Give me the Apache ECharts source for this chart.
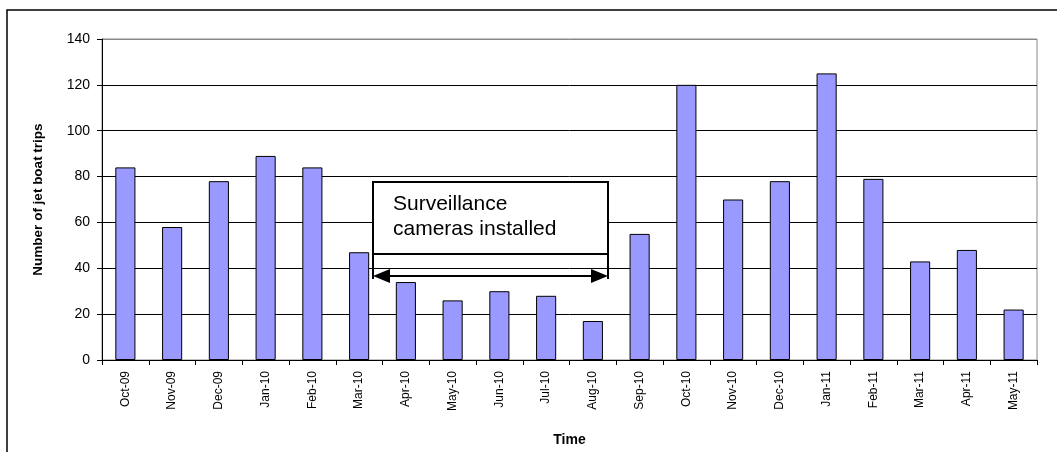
<!DOCTYPE html>
<html lang="en">
<head>
    <meta charset="UTF-8">
    <title>Jet boat trips</title>
    <style>
        html,body{
            padding: 0;margin: 0;background: #fff;
        }
        #chart{
            width: 1057px;height: 452px;
        }
    </style>
    <script src="https://cdn.jsdelivr.net/npm/echarts@6/dist/echarts.min.js"></script>
</head>
<body>
<div id="chart"></div>
</body>
</html>
<script>
    var months = ['Oct-09','Nov-09','Dec-09','Jan-10','Feb-10','Mar-10','Apr-10','May-10','Jun-10','Jul-10',
        'Aug-10','Sep-10','Oct-10','Nov-10','Dec-10','Jan-11','Feb-11','Mar-11','Apr-11','May-11'];
    var trips = [84, 58, 78, 89, 84, 47, 34, 26, 30, 28, 17, 55, 120, 70, 78, 125, 79, 43, 48, 22];
    var yTicks = [0, 20, 40, 60, 80, 100, 120, 140];

    var myChart = echarts.init(document.getElementById('chart'));
    var font = 'Arial, "Liberation Sans", sans-serif';

    // top grid line is grey like the plot border, the others black
    var gridColors = yTicks.map(function(v, i){ return i == yTicks.length - 1 ? '#888' : '#000'; });

    var option = {
        animation: false,
        grid: {left: 102, right: 20, top: 39, bottom: 88, show: true, borderColor: '#888', borderWidth: 1},
        xAxis: {
            type: 'category',
            data: months,
            name: 'Time',
            nameLocation: 'middle',
            nameGap: 73,
            nameTextStyle: {fontFamily: font, fontSize: 14, fontWeight: 'bold', color: '#000'},
            axisLine: {lineStyle: {color: '#000', width: 1}},
            axisTick: {show: true, length: 5, lineStyle: {color: '#000'}},
            axisLabel: {rotate: 90, fontFamily: font, fontSize: 12, color: '#000', margin: 11, interval: 0}
        },
        yAxis: {
            type: 'value',
            min: yTicks[0],
            max: yTicks[yTicks.length - 1],
            interval: 20,
            name: 'Number of jet boat trips',
            nameLocation: 'middle',
            nameGap: 57,
            nameTextStyle: {fontFamily: font, fontSize: 13.5, fontWeight: 'bold', color: '#000'},
            axisLine: {show: true, lineStyle: {color: '#000', width: 1}},
            axisTick: {show: true, length: 5, lineStyle: {color: '#000'}},
            axisLabel: {fontFamily: font, fontSize: 14, color: '#000', margin: 12},
            splitLine: {lineStyle: {color: gridColors, width: 1}}
        },
        series: [{
            type: 'bar',
            data: trips,
            barWidth: '43%',
            itemStyle: {color: '#9999ff', borderColor: '#000', borderWidth: 1}
        }]
    };
    myChart.setOption(option);

    // outer frame, annotation box and arrow
    var g = [
        {type: 'rect', shape: {x: 7, y: 10, width: 1100, height: 500},
            style: {fill: 'none', stroke: '#000', lineWidth: 1.5}, silent: true, z: 0},
        {type: 'rect', shape: {x: 373, y: 182, width: 235, height: 72},
            style: {fill: '#fff', stroke: '#000', lineWidth: 2}, z: 10},
        {type: 'text', x: 393, y: 192, style: {text: 'Surveillance\ncameras installed',
            font: '21px ' + font, fill: '#000', lineHeight: 25}, z: 11},
        {type: 'line', shape: {x1: 373, y1: 254, x2: 373, y2: 279}, style: {stroke: '#000', lineWidth: 2}, z: 10},
        {type: 'line', shape: {x1: 608, y1: 254, x2: 608, y2: 279}, style: {stroke: '#000', lineWidth: 2}, z: 10},
        {type: 'line', shape: {x1: 385, y1: 276, x2: 596, y2: 276}, style: {stroke: '#000', lineWidth: 2}, z: 10},
        {type: 'polygon', shape: {points: [[373, 276], [390, 269], [390, 283]]}, style: {fill: '#000'}, z: 10},
        {type: 'polygon', shape: {points: [[608, 276], [591, 269], [591, 283]]}, style: {fill: '#000'}, z: 10}
    ];
    myChart.setOption({graphic: g});
</script>
